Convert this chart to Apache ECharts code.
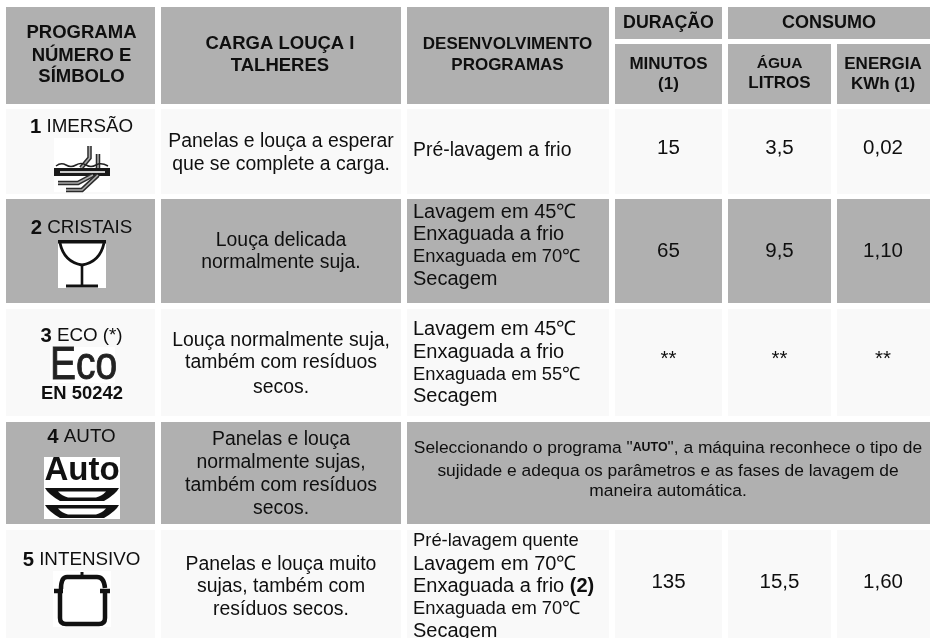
<!DOCTYPE html>
<html>
<head>
<meta charset="utf-8">
<title>Programas</title>
<style>
	html, body { margin: 0; padding: 0; background: #fff; }
	#chart { width: 930px; height: 638px; }
</style>
<script src="https://cdn.jsdelivr.net/npm/echarts@6/dist/echarts.min.js"></script>
</head>
<body>
<div id="chart"></div>
<script>
// table content
const headProgram = ["PROGRAMA", "NÚMERO E", "SÍMBOLO"];
const headLoad = ["CARGA LOUÇA I", "TALHERES"];
const headPhases = ["DESENVOLVIMENTO", "PROGRAMAS"];
const headDuration = ["DURAÇÃO"];
const headConsumption = ["CONSUMO"];
const headMinutes = ["MINUTOS", "(1)"];
const headWater = ["ÁGUA", "LITROS"];
const headEnergy = ["ENERGIA", "KWh (1)"];
const programNumbers = ["1", "2", "3", "4", "5"];
const programNames = ["IMERSÃO", "CRISTAIS", "ECO (*)", "AUTO", "INTENSIVO"];
const loads = [
	["Panelas e louça a esperar", "que se complete a carga."],
	["Louça delicada", "normalmente suja."],
	["Louça normalmente suja,", "também com resíduos", "secos."],
	["Panelas e louça", "normalmente sujas,", "também com resíduos", "secos."],
	["Panelas e louça muito", "sujas, também com", "resíduos secos."],
];
const phases = [
	["Pré-lavagem a frio"],
	["Lavagem em 45℃", "Enxaguada a frio", "Enxaguada em 70℃", "Secagem"],
	["Lavagem em 45℃", "Enxaguada a frio", "Enxaguada em 55℃", "Secagem"],
	[],
	["Pré-lavagem quente", "Lavagem em 70℃", "Enxaguada a frio {p|(2)}", "Enxaguada em 70℃", "Secagem"],
];
const autoNote = ['Seleccionando o programa "{s|AUTO}", a máquina reconhece o tipo de', "sujidade e adequa os parâmetros e as fases de lavagem de", "maneira automática."];
const ecoNorm = "EN 50242";
const minutes = ["15", "65", "**", "", "135"];
const waterLitres = ["3,5", "9,5", "**", "", "15,5"];
const energyKwh = ["0,02", "1,10", "**", "", "1,60"];

// layout, in page pixels
const FONT = '"Liberation Sans", Arial, sans-serif';
const GREY = "#b0b0b0";
const LIGHT = "#f9f9f9";
const INK = "#0f0f0f";
const colX = [[6, 155], [161, 401], [407, 609], [615, 722], [728, 831], [837, 930]];
const rowY = [[109, 194], [199, 303], [309, 416], [422, 524], [530, 638]];
const programY = [127, 228, 336, 437, 560];
const loadY = [[142, 165], [241, 263], [341, 363, 388], [440, 463, 486, 509], [565, 587, 610]];
const phaseY = [[151], [212, 234, 257, 279], [329, 352, 375, 396], [], [541, 564, 586, 609, 631]];
const phaseSmall = [[], [2], [2], [], [0, 3]];
const valueY = [148, 251, 359, 0, 582];
const noteY = [448, 471, 491];

const colCentre = (c) => (colX[c][0] + colX[c][1]) / 2;

// background cells
const cells = [
	[6, 7, 155, 104, GREY],
	[161, 7, 401, 104, GREY],
	[407, 7, 609, 104, GREY],
	[615, 7, 722, 39, GREY],
	[728, 7, 930, 39, GREY],
	[615, 44, 722, 104, GREY],
	[728, 44, 831, 104, GREY],
	[837, 44, 930, 104, GREY],
];
rowY.forEach(([top, bottom], r) => {
	const fill = r % 2 ? GREY : LIGHT;
	if (r === 3) {
		cells.push([colX[0][0], top, colX[0][1], bottom, fill], [colX[1][0], top, colX[1][1], bottom, fill], [colX[2][0], top, 930, bottom, fill]);
	} else {
		colX.forEach(([left, right]) => cells.push([left, top, right, bottom, fill]));
	}
});

// text items
const texts = [];
const put = (text, x, y, size, opt = {}) => texts.push({ text, x, y, size, bold: false, align: "center", ...opt });
const putHead = (lines, x, ys, sizes) => lines.forEach((t, i) => put(t, x, ys[i], sizes[i] || sizes[0], { bold: true }));

putHead(headProgram, 81.5, [33, 56, 77], [18.5]);
putHead(headLoad, 280, [44, 66], [18.5]);
putHead(headPhases, 507.5, [44, 65], [17]);
putHead(headDuration, colCentre(3), [23], [17.8]);
putHead(headConsumption, 829, [23], [18]);
putHead(headMinutes, colCentre(3), [64, 84], [17]);
putHead(headWater, colCentre(4), [64, 83], [15.5, 17]);
putHead(headEnergy, 883, [64, 84], [17]);

programNumbers.forEach((n, r) => {
	put("{n|" + n + "} " + programNames[r], 81.5, programY[r], 18.8);
	loads[r].forEach((t, i) => put(t, colCentre(1), loadY[r][i], 19.4));
	phases[r].forEach((t, i) => {
		let size = phaseSmall[r].includes(i) ? 18.4 : 20;
		if (r === 0) size = 19.4;
		put(t, 413, phaseY[r][i], size, { align: "left" });
	});
	put(minutes[r], colCentre(3), valueY[r], 20.5);
	put(waterLitres[r], colCentre(4), valueY[r], 20.5);
	put(energyKwh[r], 883, valueY[r], 20.5);
});
autoNote.forEach((t, i) => put(t, 668, noteY[i], 17.4));
put(ecoNorm, 82, 394, 18.4, { bold: true });

// icons, drawn around a top-left origin inside a white square
const strokePath = (d, w, color = "#111") => ({ type: "path", shape: { pathData: d }, style: { fill: "none", stroke: color, lineWidth: w } });
const fillPath = (d, color = "#111") => ({ type: "path", shape: { pathData: d }, style: { fill: color } });
const utensil = (d) => [strokePath(d, 4.5, "#2a2a2a"), strokePath(d, 1.6, "#aaa")];
const plate = (y) => [
	fillPath(`M1 ${y} H75 Q72 ${y + 6} 60 ${y + 13} H16 Q4 ${y + 6} 1 ${y} Z`),
	fillPath(`M14 ${y + 3.5} Q18 ${y + 8} 24 ${y + 9.5} H52 Q58 ${y + 8} 62 ${y + 3.5} Z`, "#fff"),
];
const icons = [
	{ x: 54, y: 138, w: 56, h: 54, parts: [
		...utensil("M35.5 8 V20 L27 30"),
		...utensil("M44 16 V30 L40 38"),
		fillPath("M0 30 H56 V38 H0 Z", "#1a1a1a"),
		fillPath("M6 33 H51 V35 H6 Z", "#ccc"),
		strokePath("M2 28 Q7 24 12 27 T22 27 T32 27 T42 27 T54 28", 1.5, "#222"),
		...utensil("M39 37 L24 45 H4"),
		...utensil("M44 37 L28 52 H12"),
	] },
	{ x: 58, y: 240, w: 48, h: 48, parts: [
		fillPath("M0 0 H48 V3.5 H0 Z"),
		strokePath("M2 3 Q6 22 24 25 Q42 22 46 3", 2.8),
		strokePath("M24 25 V46", 2.6),
		strokePath("M8 46 H40", 3),
	] },
	{ x: 50, y: 347, w: 65, h: 36, parts: [
		{ type: "text", scaleX: 0.83, style: { text: "Eco", x: 0, y: 19, fontFamily: FONT, fontSize: 47, fill: "#222", stroke: "#333", lineWidth: 1, verticalAlign: "middle", align: "left" } },
	] },
	{ x: 44, y: 457, w: 76, h: 62, parts: [
		{ type: "text", style: { text: "Auto", x: 38, y: 14, fontFamily: FONT, fontWeight: "bold", fontSize: 33, fill: "#111", align: "center", verticalAlign: "middle" } },
		...plate(31),
		...plate(48),
	] },
	{ x: 53, y: 571, w: 58, h: 56, parts: [
		strokePath("M8 18 Q8 6 14 6 H44 Q51 6 52 17", 4.5),
		strokePath("M29 6 V1", 3),
		strokePath("M1 20 H10 M47 20 H57", 4.5),
		strokePath("M7 20 V47 Q7 53 13 53 H46 Q52 53 52 47 V20", 4.5),
	] },
];

const pixelRect = (api, x0, y0, x1, y1, fill) => {
	const a = api.coord([x0, y0]);
	const b = api.coord([x1, y1]);
	return { type: "rect", shape: { x: a[0], y: a[1], width: b[0] - a[0], height: b[1] - a[1] }, style: { fill } };
};

const renderCell = (params, api) => {
	const c = cells[api.value(0)];
	return pixelRect(api, c[0], c[1], c[2], c[3], c[4]);
};

const renderText = (params, api) => {
	const t = texts[api.value(0)];
	const p = api.coord([t.x, t.y]);
	return {
		type: "text",
		style: {
			text: t.text,
			x: p[0],
			y: p[1],
			fill: INK,
			fontFamily: FONT,
			fontSize: t.size,
			fontWeight: t.bold ? "bold" : "normal",
			align: t.align,
			verticalAlign: "middle",
			rich: {
				n: { fontFamily: FONT, fontSize: t.size + 1.5, fontWeight: "bold", fill: INK },
				p: { fontFamily: FONT, fontSize: t.size, fontWeight: "bold", fill: INK },
				s: { fontFamily: FONT, fontSize: t.size - 5, fontWeight: "bold", fill: INK },
			},
		},
	};
};

const renderIcon = (params, api) => {
	const ic = icons[api.value(0)];
	const p = api.coord([ic.x, ic.y]);
	return {
		type: "group",
		x: p[0],
		y: p[1],
		children: [{ type: "rect", shape: { x: 0, y: 0, width: ic.w, height: ic.h }, style: { fill: "#fff" } }].concat(ic.parts),
	};
};

const indexData = (list) => list.map((_, i) => [i]);
const customBase = { type: "custom", silent: true, animation: false, clip: false, encode: { x: -1, y: -1 } };

const chart = echarts.init(document.getElementById("chart"), null, { renderer: "canvas" });
chart.setOption({
	backgroundColor: "#fff",
	animation: false,
	grid: { left: 0, right: 0, top: 0, bottom: 0 },
	xAxis: { type: "value", min: 0, max: 930, show: false },
	yAxis: { type: "value", min: 0, max: 638, inverse: true, show: false },
	series: [
		{ ...customBase, name: "cells", renderItem: renderCell, data: indexData(cells), z: 1 },
		{ ...customBase, name: "icons", renderItem: renderIcon, data: indexData(icons), z: 2 },
		{ ...customBase, name: "texts", renderItem: renderText, data: indexData(texts), z: 3 },
	],
});
</script>
</body>
</html>
